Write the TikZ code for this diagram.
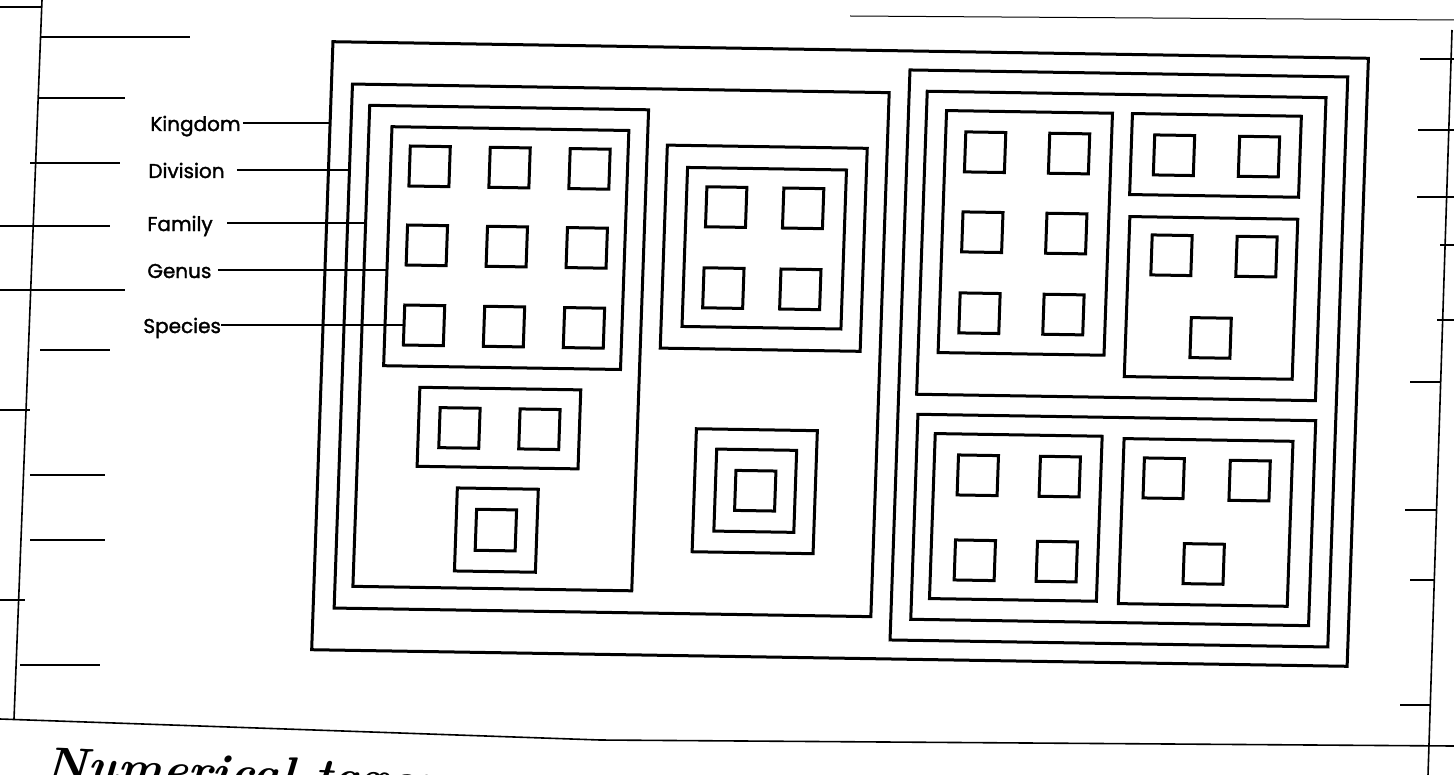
\documentclass[tikz,border=0pt]{standalone}
\usepackage{fontspec}
\newfontfamily\rankfont{Poppins}[FakeBold=1.6]

\tikzset{
  taxbox/.style={line width=1.5pt},
  leader/.style={line width=1pt},
  rank/.style={font=\rankfont\fontsize{10}{12}\selectfont, inner sep=0pt, anchor=base west},
  ruling/.style={line width=0.8pt},
  hand/.style={font=\bfseries\itshape\fontsize{24}{28}\selectfont, inner sep=0pt, anchor=base west},
}

\begin{document}
\begin{tikzpicture}[x=0.5pt,y=-0.5pt]
  \useasboundingbox (0,0) rectangle (1454,775);

  % page ruling of the notebook
  \draw[ruling] (0,7) -- (42,7);
  \draw[ruling] (42,0) -- (14,719);
  \draw[ruling] (0,719) -- (600,740) -- (1454,746);
  \draw[ruling, line width=0.5pt] (850,16) -- (1454,20);
  \draw[ruling] (1452,30) -- (1428,775);
  \draw[ruling] (40,37) -- (190,37);
  \draw[ruling] (38,98) -- (125,98);
  \draw[ruling] (30,163) -- (120,163);
  \draw[ruling] (0,226) -- (110,226);
  \draw[ruling] (0,290) -- (125,290);
  \draw[ruling] (40,350) -- (110,350);
  \draw[ruling] (0,410) -- (30,410);
  \draw[ruling] (30,475) -- (105,475);
  \draw[ruling] (30,540) -- (105,540);
  \draw[ruling] (0,600) -- (25,600);
  \draw[ruling] (20,665) -- (100,665);
  \draw[ruling] (1420,59) -- (1454,59);
  \draw[ruling] (1418,130) -- (1454,130);
  \draw[ruling] (1417,197) -- (1454,197);
  \draw[ruling] (1440,245) -- (1454,245);
  \draw[ruling] (1437,320) -- (1454,320);
  \draw[ruling] (1410,382) -- (1440,382);
  \draw[ruling] (1405,510) -- (1437,510);
  \draw[ruling] (1410,580) -- (1435,580);
  \draw[ruling] (1400,705) -- (1431,705);

  % nested taxa, the scan is slightly askew
  \begin{scope}[shift={(840,355)}, xslant=0.035, yslant=-0.016, shift={(-840,-355)}]
    % kingdom
    \draw[taxbox] (322,50) rectangle (1358,658);
    % left division
    \draw[taxbox] (343,92) rectangle (880,616);
    \draw[taxbox] (361,113) rectangle (640,594);
    \draw[taxbox] (384,134) rectangle (621,373);
    \foreach \x in {423,503,583}
      \foreach \y in {173,252,332}
        \draw[taxbox] (\x-20,\y-20) rectangle ++(40,40);
    \draw[taxbox] (421,394) rectangle (582,473);
    \foreach \x in {462,542}
      \draw[taxbox] (\x-20,414) rectangle ++(40,40);
    \draw[taxbox] (462,494) rectangle (543,577);
    \draw[taxbox] (482,515) rectangle ++(40,41);
    \draw[taxbox] (660,148) rectangle (860,351);
    \draw[taxbox] (681,170) rectangle (840,329);
    \foreach \x in {721,798}
      \foreach \y in {209,290}
        \draw[taxbox] (\x-20,\y-20) rectangle ++(40,40);
    \draw[taxbox] (699,431) rectangle (820,554);
    \draw[taxbox] (720,451) rectangle (800,533);
    \draw[taxbox] (740,472) rectangle ++(40,40);
    % right division
    \draw[taxbox] (900,69) rectangle (1338,639);
    \draw[taxbox] (918,90) rectangle (1317,393);
    \draw[taxbox] (938,109) rectangle (1104,351);
    \foreach \x in {978,1062}
      \foreach \y in {150,230,311}
        \draw[taxbox] (\x-20,\y-20) rectangle ++(40,40);
    \draw[taxbox] (1124,109) rectangle (1293,190);
    \foreach \x in {1167,1252}
      \draw[taxbox] (\x-20,130) rectangle ++(40,40);
    \draw[taxbox] (1125,212) rectangle (1293,372);
    \foreach \x/\y in {1168/250,1253/250,1210/332}
      \draw[taxbox] (\x-20,\y-20) rectangle ++(40,40);
    \draw[taxbox] (920,413) rectangle (1318,618);
    \draw[taxbox] (938,432) rectangle (1105,597);
    \foreach \x in {982,1064}
      \foreach \y in {473,558}
        \draw[taxbox] (\x-20,\y-20) rectangle ++(40,40);
    \draw[taxbox] (1127,434) rectangle (1296,599);
    \foreach \x/\y in {1168/473,1254/474,1211/558}
      \draw[taxbox] (\x-20,\y-20) rectangle ++(40,40);
  \end{scope}

  % rank labels
  \node[rank] (kingdom) at (150,131) {Kingdom};
  \node[rank] (division) at (148,178) {Division};
  \node[rank] (family) at (147,231) {Family};
  \node[rank] (genus) at (147,278) {Genus};
  \node[rank] (species) at (143,333) {Species};
  \coordinate (kingdomedge) at (331,123);
  \coordinate (divisionedge) at (349,170);
  \coordinate (familyedge) at (366,223);
  \coordinate (genusedge) at (387,270);
  \coordinate (speciesedge) at (404,325);
  \draw[leader, shorten <=1pt] (kingdom.east |- kingdomedge) -- (kingdomedge);
  \draw[leader, shorten <=6pt] (division.east |- divisionedge) -- (divisionedge);
  \draw[leader, shorten <=7pt] (family.east |- familyedge) -- (familyedge);
  \draw[leader, shorten <=3pt] (genus.east |- genusedge) -- (genusedge);
  \draw[leader] (species.east |- speciesedge) -- (speciesedge);

  \node[hand, rotate=-2.5] (caption) at (44,780) {Numerical taxonomy};
\end{tikzpicture}
\end{document}
